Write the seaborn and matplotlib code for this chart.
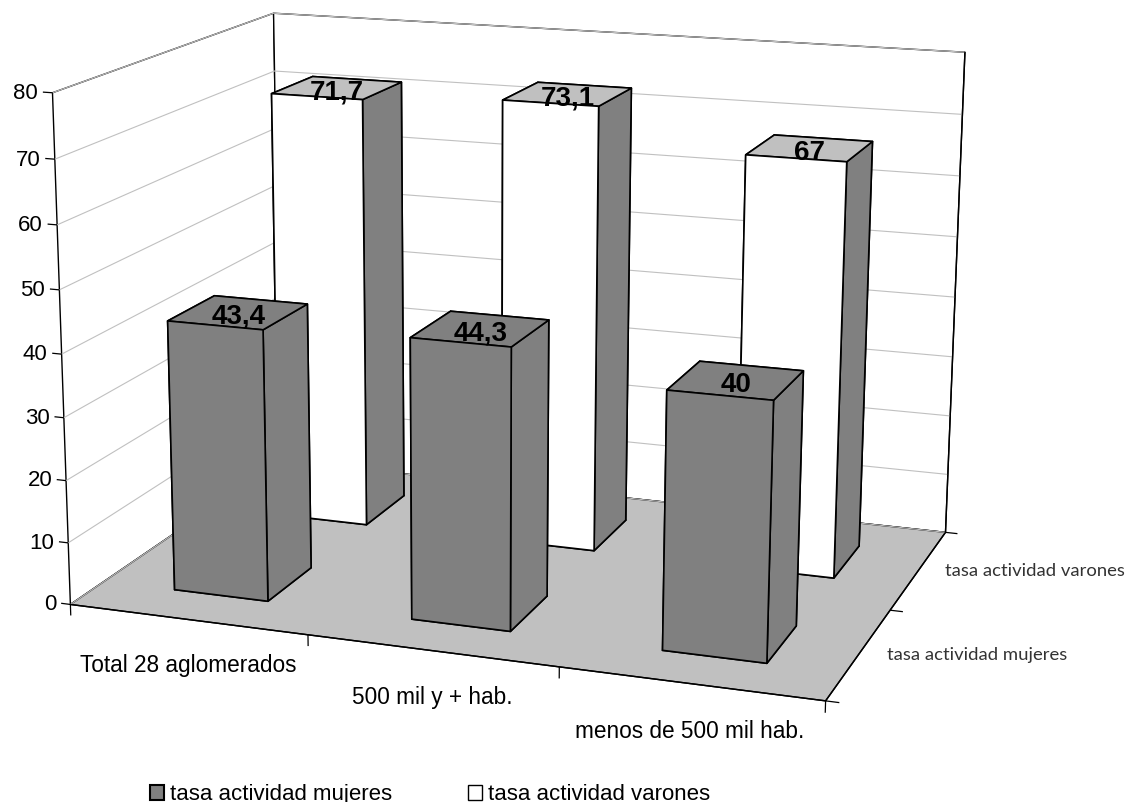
import matplotlib
matplotlib.use('Agg')
import matplotlib.pyplot as plt
from matplotlib.patches import Patch
from mpl_toolkits.mplot3d.art3d import Line3DCollection
import numpy as np
import seaborn as sns

categorias = ['Total 28 aglomerados', '500 mil y + hab.', 'menos de 500 mil hab.']
series = ['tasa actividad mujeres', 'tasa actividad varones']
mujeres = [43.4, 44.3, 40]
varones = [71.7, 73.1, 67]
etiq_mujeres = ['43,4', '44,3', '40']
etiq_varones = ['71,7', '73,1', '67']
zticks = [0, 10, 20, 30, 40, 50, 60, 70, 80]

sns.set_theme(style='white')
plt.rcParams['font.family'] = ['Liberation Sans', 'DejaVu Sans']

GRIS = '#808080'
CLARO = '#c0c0c0'
ANCHO_X = 0.40
ANCHO_Y = 0.42
W, H = 1127, 802

# esquinas de la caja en la imagen, para calibrar la camara del grafico 3D
cubo = np.array([[0, 0, 0], [3, 0, 0], [3, 2, 0], [0, 2, 0],
                 [0, 0, 80], [3, 2, 80], [0, 2, 80]], dtype=float)
imagen = np.array([[72, 602.3], [825.7, 702.7], [946, 530.3], [279, 463],
                   [50.7, 93.3], [964.3, 52.7], [275.7, 12.3]], dtype=float)
filas = []
for (x, y, z), (u, v) in zip(cubo, imagen):
    v = H - v
    filas.append([x, y, z, 1, 0, 0, 0, 0, -u * x, -u * y, -u * z, -u])
    filas.append([0, 0, 0, 0, x, y, z, 1, -v * x, -v * y, -v * z, -v])
P = np.linalg.svd(np.array(filas))[2][-1].reshape(3, 4)
P = P / P[2, 3]
prof = np.array([-0.1, 0.5, -0.0025, 2.0])


def camara():
    A = ax.transData.inverted().get_matrix()
    Q = A @ P
    return np.array([Q[0], Q[1], prof, Q[2]])


fig = plt.figure(figsize=(W / 100, H / 100), dpi=100)
ax = fig.add_axes([0, 0, 1, 1], projection='3d', computed_zorder=False)
ax.patch.set_visible(False)
ax.get_proj = camara

ax.xaxis.set_pane_color('white')
ax.yaxis.set_pane_color('white')
ax.zaxis.set_pane_color(CLARO)
for a in (ax.xaxis, ax.yaxis, ax.zaxis):
    a.pane.set_closed(True)
    a.pane.set_edgecolor('black')
    a.pane.set_linewidth(1.0)
    a.line.set_color('black')
    a.line.set_linewidth(1.0)
    a._axinfo['tick'].update(inward_factor=0, outward_factor=0)
ax.xaxis._axinfo['grid'].update(linewidth=0)
ax.yaxis._axinfo['grid'].update(linewidth=0)
ax.zaxis._axinfo['grid'].update(color='#c0c0c0', linewidth=0.8)

ax.set_xticks([0, 1, 2, 3])
ax.set_yticks([0, 1, 2])
ax.set_zticks(zticks)
ax.set_xticklabels([])
ax.set_yticklabels([])
ax.set_zticklabels([])

# marcas de los ejes
marcas = [[(v, 0, 0), (v, 0, -1.8)] for v in [0, 1, 2, 3]]
marcas += [[(3, v, 0), (3.05, v, 0)] for v in [0, 1, 2]]
marcas += [[(0, 0, v), (-0.04, 0, v)] for v in zticks]
lineas = Line3DCollection(marcas, colors='black', linewidths=0.9)
lineas.set_clip_on(False)
ax.add_collection3d(lineas, autolim=False)
for v in zticks:
    ax.text(-0.06, 0, v - 0.3, str(v), ha='right', va='center', fontsize=16, color='black')

caras_v = [GRIS, CLARO, 'white', 'white', 'white', GRIS]
for i in range(3):
    b = ax.bar3d(i + 0.505 - ANCHO_X / 2, 1.5 - ANCHO_Y / 2, 0, ANCHO_X, ANCHO_Y, varones[i],
                 color=caras_v, edgecolor='black', linewidth=1.2, shade=False)
    b.set_clip_on(False)
for i in range(3):
    b = ax.bar3d(i + 0.505 - ANCHO_X / 2, 0.5 - ANCHO_Y / 2, 0, ANCHO_X, ANCHO_Y, mujeres[i],
                 color=GRIS, edgecolor='black', linewidth=1.2, shade=False)
    b.set_clip_on(False)

for i in range(3):
    ax.text(i + 0.505, 1.5, varones[i] - 0.7, etiq_varones[i], ha='center', va='center',
            fontsize=20, fontweight='bold', color='black', zorder=20)
    ax.text(i + 0.505, 0.5, mujeres[i] - 0.7, etiq_mujeres[i], ha='center', va='center',
            fontsize=20, fontweight='bold', color='black', zorder=20)
    ax.text(i + 0.5, 0, -7.4, categorias[i], ha='center', va='center',
            fontsize=16.3, color='black')
for j, s in enumerate(series):
    ax.text(3.1, j + 0.52, 0, s, ha='left', va='center', fontsize=13.3,
            family=['Lato', 'DejaVu Sans'], color='#333333')

# los limites van al final: bar3d los reajusta
ax.set_xlim(0, 3, view_margin=0)
ax.set_ylim(0, 2, view_margin=0)
ax.set_zlim(0, 80, view_margin=0)

fig.legend(handles=[Patch(facecolor=GRIS, edgecolor='black', linewidth=1.5, label=series[0]),
                    Patch(facecolor='white', edgecolor='black', linewidth=1.0, label=series[1])],
           loc='lower left', bbox_to_anchor=(0.133, -0.004), ncol=2, frameon=False,
           fontsize=16, columnspacing=3.4, handlelength=0.65, handleheight=0.65,
           handletextpad=0.25, borderpad=0, borderaxespad=0, labelcolor='black')
fig.savefig('out.png', dpi=100)
